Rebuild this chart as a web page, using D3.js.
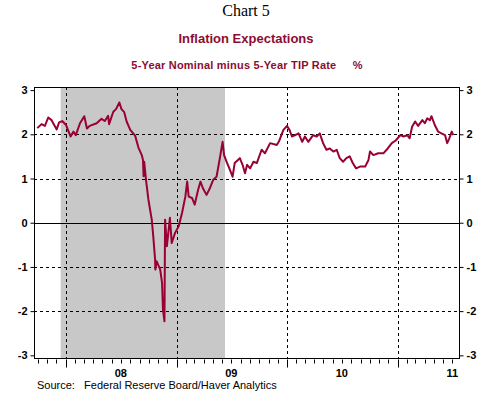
<!DOCTYPE html>
<html>
<head>
<meta charset="utf-8">
<script src="https://cdn.jsdelivr.net/npm/d3@7"></script>
<style>
  body { margin: 0; background: #fff; }
  svg { display: block; }
  .tick text, .yearLabel { font-family: Arial, "Liberation Sans", sans-serif; font-weight: bold; font-size: 11px; fill: #000; }
</style>
</head>
<body>
<div id="chart"></div>
<script>
// ---- data ----
var dates = [
  "2007-09-29","2007-10-13","2007-10-24","2007-11-04","2007-11-15","2007-12-02","2007-12-10","2007-12-20",
  "2008-01-02","2008-01-17","2008-01-26","2008-02-03","2008-02-17","2008-03-02","2008-03-11","2008-03-20",
  "2008-04-12","2008-04-28","2008-05-09","2008-05-20","2008-05-23","2008-06-06","2008-06-15","2008-06-26",
  "2008-07-03","2008-07-12","2008-07-20","2008-08-01","2008-08-17","2008-08-28","2008-09-08","2008-09-12",
  "2008-09-14","2008-09-16","2008-09-22","2008-09-30","2008-10-11","2008-10-16","2008-10-22","2008-10-23",
  "2008-10-27","2008-11-08","2008-11-14","2008-11-17","2008-11-22","2008-11-24","2008-11-30","2008-12-10",
  "2008-12-16","2008-12-27","2009-01-08","2009-01-19","2009-01-30","2009-02-05","2009-02-10","2009-02-21",
  "2009-03-02","2009-03-13","2009-03-21","2009-03-29","2009-04-10","2009-04-21","2009-05-02","2009-05-13",
  "2009-05-24","2009-06-02","2009-06-07","2009-06-15","2009-06-26","2009-07-05","2009-07-12","2009-07-29",
  "2009-08-07","2009-08-15","2009-08-22","2009-09-01","2009-09-12","2009-09-23","2009-10-09","2009-10-20",
  "2009-11-06","2009-11-28","2009-12-06","2009-12-20","2010-01-01","2010-01-09","2010-01-17","2010-01-28",
  "2010-02-08","2010-02-20","2010-03-01","2010-03-12","2010-03-28","2010-04-09","2010-04-19","2010-04-30",
  "2010-05-11","2010-05-22","2010-06-03","2010-06-14","2010-06-24","2010-07-05","2010-07-16","2010-07-27",
  "2010-08-06","2010-08-17","2010-08-30","2010-09-16","2010-09-27","2010-10-02","2010-10-13","2010-10-29",
  "2010-11-15","2010-11-26","2010-12-13","2010-12-26","2011-01-10","2011-01-21","2011-02-02","2011-02-10",
  "2011-02-18","2011-02-28","2011-03-10","2011-03-24","2011-04-01","2011-04-09","2011-04-18","2011-04-23",
  "2011-05-04","2011-05-15","2011-05-26","2011-06-07","2011-06-14","2011-06-21","2011-06-29","2011-07-04"
];
var spread = [
  2.14,2.23,2.19,2.38,2.32,2.11,2.27,2.30,
  2.21,1.95,2.06,1.98,2.25,2.41,2.13,2.19,
  2.25,2.35,2.30,2.42,2.23,2.51,2.57,2.72,
  2.57,2.50,2.29,2.10,1.97,1.70,1.53,1.42,
  1.05,1.38,0.97,0.52,0.07,-0.31,-0.83,-1.06,
  -0.87,-1.06,-1.36,-1.96,-2.23,0.07,-0.53,0.11,
  -0.46,-0.23,-0.08,0.22,0.59,0.93,0.59,0.56,
  0.41,0.74,0.93,0.78,0.63,0.78,0.97,1.04,
  1.46,1.83,1.53,1.38,1.20,1.04,1.35,1.46,
  1.31,1.12,1.31,1.23,1.38,1.35,1.65,1.57,
  1.80,1.76,1.85,2.10,2.19,2.10,1.95,1.98,
  2.02,1.83,1.95,1.83,1.98,1.95,2.02,1.80,
  1.65,1.68,1.61,1.65,1.46,1.38,1.46,1.50,
  1.35,1.23,1.27,1.27,1.42,1.61,1.53,1.57,
  1.57,1.65,1.80,1.86,1.98,1.95,1.98,1.91,
  2.17,2.29,2.19,2.32,2.25,2.36,2.32,2.41,
  2.21,2.06,2.02,1.98,1.80,1.91,2.06,1.98
];
var recession = ["2007-12-15", "2009-06-10"];
var yTicks = [-3, -2, -1, 0, 1, 2, 3];
var yearLabels = ["08", "09", "10", "11"];
var yearMids = ["2008-07-01", "2009-07-01", "2010-07-01", "2011-07-01"];
var xDomain = ["2007-09-18", "2011-07-23"];

var parseDate = d3.timeParse("%Y-%m-%d");
var lineData = dates.map(function (d, i) {
  return { date: parseDate(d), value: spread[i] };
});

//=========SVG area=========//
var svgWidth = 498;
var svgHeight = 395;
var margin = { top: 87, right: 39, bottom: 37, left: 34 };
var width = svgWidth - margin.left - margin.right;
var height = svgHeight - margin.top - margin.bottom;

var svg = d3.select("#chart").append("svg")
  .attr("width", svgWidth)
  .attr("height", svgHeight);

var red = "#990033";

// titles
svg.append("text")
  .attr("x", 246).attr("y", 16)
  .attr("text-anchor", "middle")
  .style("font-family", "'Times New Roman', 'Liberation Serif', serif")
  .style("font-size", "16px")
  .text("Chart 5");

svg.append("text")
  .attr("x", 246).attr("y", 43)
  .attr("text-anchor", "middle")
  .style("font-family", "Arial, 'Liberation Sans', sans-serif")
  .style("font-weight", "bold")
  .style("font-size", "13px")
  .style("fill", "#8b0d32")
  .text("Inflation Expectations");

svg.append("text")
  .attr("x", 247).attr("y", 69)
  .attr("text-anchor", "middle")
  .attr("xml:space", "preserve")
  .style("font-family", "Arial, 'Liberation Sans', sans-serif")
  .style("font-weight", "bold")
  .style("font-size", "11px")
  .style("letter-spacing", "0.2px")
  .style("fill", "#8b0d32")
  .style("white-space", "pre")
  .text("5-Year Nominal minus 5-Year TIP Rate     %");

var chartGroup = svg.append("g")
  .attr("transform", `translate(${margin.left}, ${margin.top})`);

// scales
var xScale = d3.scaleTime()
  .domain(xDomain.map(parseDate))
  .range([0, width]);

var yScale = d3.scaleLinear()
  .domain([-3.06, 3.07])
  .range([height, 0]);

// recession shading
chartGroup.append("rect")
  .attr("x", xScale(parseDate(recession[0])))
  .attr("y", 0)
  .attr("width", xScale(parseDate(recession[1])) - xScale(parseDate(recession[0])))
  .attr("height", height)
  .attr("fill", "#c8c8c8");

// horizontal grid lines
chartGroup.selectAll(".hgrid")
  .data(yTicks.filter(function (d) { return d !== 0 && Math.abs(d) !== 3; }))
  .enter().append("line")
  .attr("x1", 0).attr("x2", width)
  .attr("y1", function (d) { return Math.round(yScale(d)) + 0.5; })
  .attr("y2", function (d) { return Math.round(yScale(d)) + 0.5; })
  .attr("stroke", "#000")
  .attr("stroke-dasharray", "3,3");

// vertical grid lines at year starts
var yearStarts = d3.timeYear.range(xScale.domain()[0], xScale.domain()[1]);
chartGroup.selectAll(".vgrid")
  .data(yearStarts)
  .enter().append("line")
  .attr("x1", function (d) { return Math.round(xScale(d)) + 0.5; })
  .attr("x2", function (d) { return Math.round(xScale(d)) + 0.5; })
  .attr("y1", 0).attr("y2", height)
  .attr("stroke", "#000")
  .attr("stroke-dasharray", "3,3");

// zero line
chartGroup.append("line")
  .attr("x1", 0).attr("x2", width)
  .attr("y1", Math.round(yScale(0)) + 0.5)
  .attr("y2", Math.round(yScale(0)) + 0.5)
  .attr("stroke", "#000");

// the series
var line = d3.line()
  .x(function (d) { return xScale(d.date); })
  .y(function (d) { return yScale(d.value); });

chartGroup.append("path")
  .datum(lineData)
  .attr("d", line)
  .attr("fill", "none")
  .attr("stroke", red)
  .attr("stroke-width", 2)
  .attr("stroke-linejoin", "round");

// frame
chartGroup.append("rect")
  .attr("x", 0.5).attr("y", 0.5)
  .attr("width", width).attr("height", height)
  .attr("fill", "none")
  .attr("stroke", "#000");

// y axes, both sides
var fmt = function (d) { return String(d); };
var leftAxis = d3.axisLeft(yScale).tickValues(yTicks).tickFormat(fmt).tickSize(4).tickPadding(3);
var rightAxis = d3.axisRight(yScale).tickValues(yTicks).tickFormat(fmt).tickSize(4).tickPadding(3);

chartGroup.append("g")
  .attr("transform", "translate(0.5, 0)")
  .call(leftAxis)
  .call(function (g) { g.select(".domain").remove(); });

chartGroup.append("g")
  .attr("transform", `translate(${width + 0.5}, 0)`)
  .call(rightAxis)
  .call(function (g) { g.select(".domain").remove(); });

// x axis: monthly ticks, longer at January
var months = d3.timeMonth.range(xScale.domain()[0], xScale.domain()[1]);
var xAxis = chartGroup.append("g")
  .attr("transform", `translate(0, ${height + 0.5})`);

xAxis.selectAll("line")
  .data(months)
  .enter().append("line")
  .attr("x1", function (d) { return Math.round(xScale(d)) + 0.5; })
  .attr("x2", function (d) { return Math.round(xScale(d)) + 0.5; })
  .attr("y1", 1)
  .attr("y2", function (d) { return d.getMonth() === 0 ? 9 : 5; })
  .attr("stroke", "#000");

// source note (drawn first so the year labels sit on top)
svg.append("text")
  .attr("x", 37).attr("y", 389)
  .attr("xml:space", "preserve")
  .style("font-family", "Arial, 'Liberation Sans', sans-serif")
  .style("font-size", "11px")
  .style("white-space", "pre")
  .text("Source:   Federal Reserve Board/Haver Analytics");

// year labels at mid-year
svg.selectAll(".yearLabel")
  .data(yearMids)
  .enter().append("text")
  .attr("class", "yearLabel")
  .attr("x", function (d) { return margin.left + xScale(parseDate(d)); })
  .attr("y", margin.top + height + 19)
  .attr("text-anchor", "middle")
  .style("fill", "#000")
  .text(function (d, i) { return yearLabels[i]; });
</script>
</body>
</html>
